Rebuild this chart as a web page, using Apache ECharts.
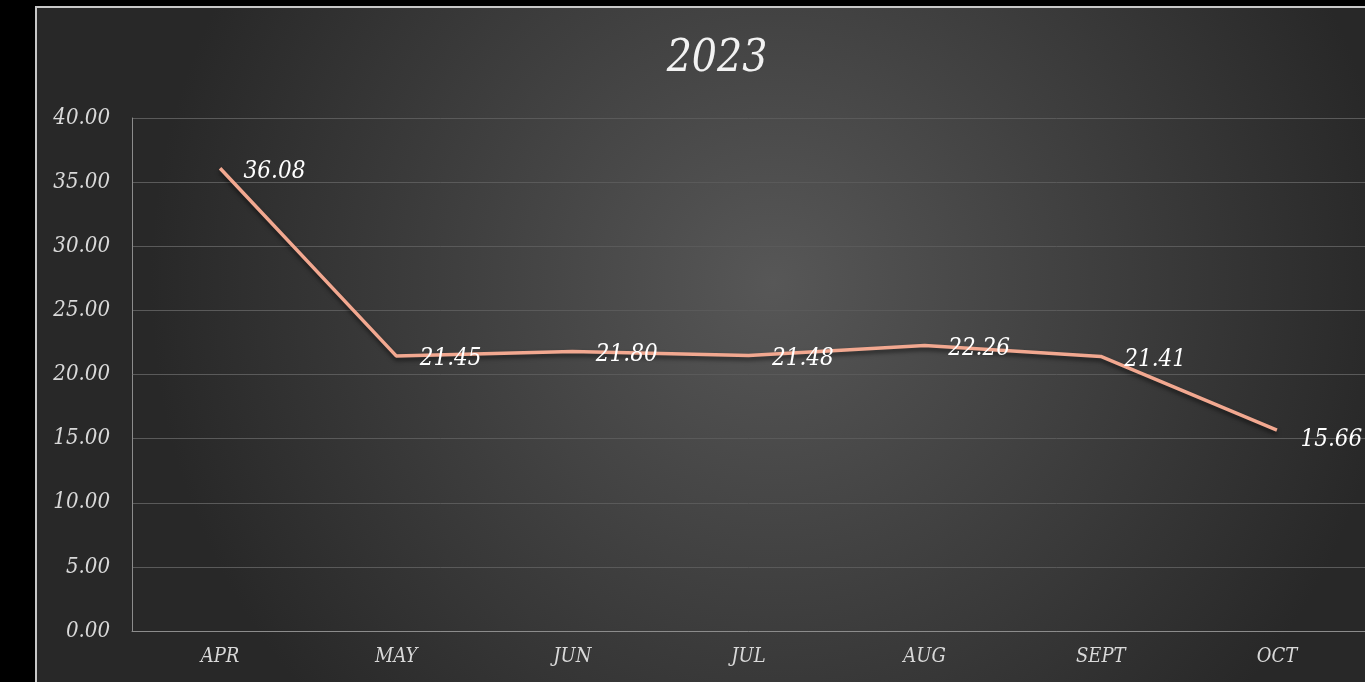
<!DOCTYPE html>
<html>
<head>
<meta charset="utf-8">
<script src="https://cdn.jsdelivr.net/npm/echarts@6/dist/echarts.min.js"></script>
<style>
    html, body { margin: 0; padding: 0; background: #000; }
    #lineChart { width: 1365px; height: 682px; }
</style>
</head>
<body>
<div id="lineChart"></div>
<script>
    // data
    var months = ['APR', 'MAY', 'JUN', 'JUL', 'AUG', 'SEPT', 'OCT'];
    var values = [36.08, 21.45, 21.80, 21.48, 22.26, 21.41, 15.66];
    var yTicks = { min: 0, max: 40, step: 5 };

    var fontFam = '"DejaVu Serif Condensed", "DejaVu Serif", serif';

    var myChart = echarts.init(document.getElementById('lineChart'));
    myChart.setOption({
        backgroundColor: '#000',
        graphic: [{
            type: 'rect',
            z: -10,
            silent: true,
            shape: { x: 36, y: 7, width: 1340, height: 690 },
            style: {
                fill: {
                    type: 'radial', x: 0.55, y: 0.4, r: 0.9,
                    colorStops: [
                        { offset: 0, color: '#575757' },
                        { offset: 1, color: '#282828' }
                    ]
                },
                stroke: '#c8c8c8',
                lineWidth: 2
            }
        }],
        title: {
            text: '2023',
            left: 712,
            top: 33,
            textAlign: 'center',
            textStyle: {
                color: '#f2f2f2',
                fontFamily: fontFam,
                fontStyle: 'italic',
                fontWeight: 'normal',
                fontSize: 44
            }
        },
        grid: {
            left: 132,
            top: 118,
            width: 1240,
            bottom: 51,
            containLabel: false
        },
        xAxis: [{
            type: 'category',
            data: months,
            boundaryGap: true,
            axisTick: { show: false },
            axisLine: { lineStyle: { color: '#8c8c8c', width: 1 } },
            axisLabel: {
                color: '#d9d9d9',
                fontFamily: fontFam,
                fontStyle: 'italic',
                fontSize: 20,
                margin: 16
            }
        }],
        yAxis: [{
            type: 'value',
            min: yTicks.min,
            max: yTicks.max,
            interval: yTicks.step,
            axisLine: { show: true, lineStyle: { color: '#8c8c8c', width: 1 } },
            axisTick: { show: false },
            splitLine: { lineStyle: { color: '#5a5a5a', width: 1 } },
            axisLabel: {
                color: '#d9d9d9',
                fontFamily: fontFam,
                fontStyle: 'italic',
                fontSize: 22,
                margin: 22,
                formatter: function (v) { return v.toFixed(2); }
            }
        }],
        series: [{
            type: 'line',
            data: values,
            symbol: 'circle',
            symbolSize: 1,
            itemStyle: { color: 'rgba(0,0,0,0)' },
            lineStyle: {
                color: '#f2a890',
                width: 3.5,
                shadowColor: 'rgba(0,0,0,0.55)',
                shadowBlur: 4,
                shadowOffsetY: 3
            },
            label: {
                show: true,
                position: 'right',
                distance: 23,
                color: '#ffffff',
                fontFamily: fontFam,
                fontStyle: 'italic',
                fontSize: 24,
                formatter: function (p) { return p.value.toFixed(2); }
            },
            // the labels sit a little under the line, the last one more so
            labelLayout: function (params) {
                return {
                    dy: params.dataIndex === values.length - 1 ? 10 : 3,
                    hideOverlap: false
                };
            }
        }]
    });
</script>
</body>
</html>
